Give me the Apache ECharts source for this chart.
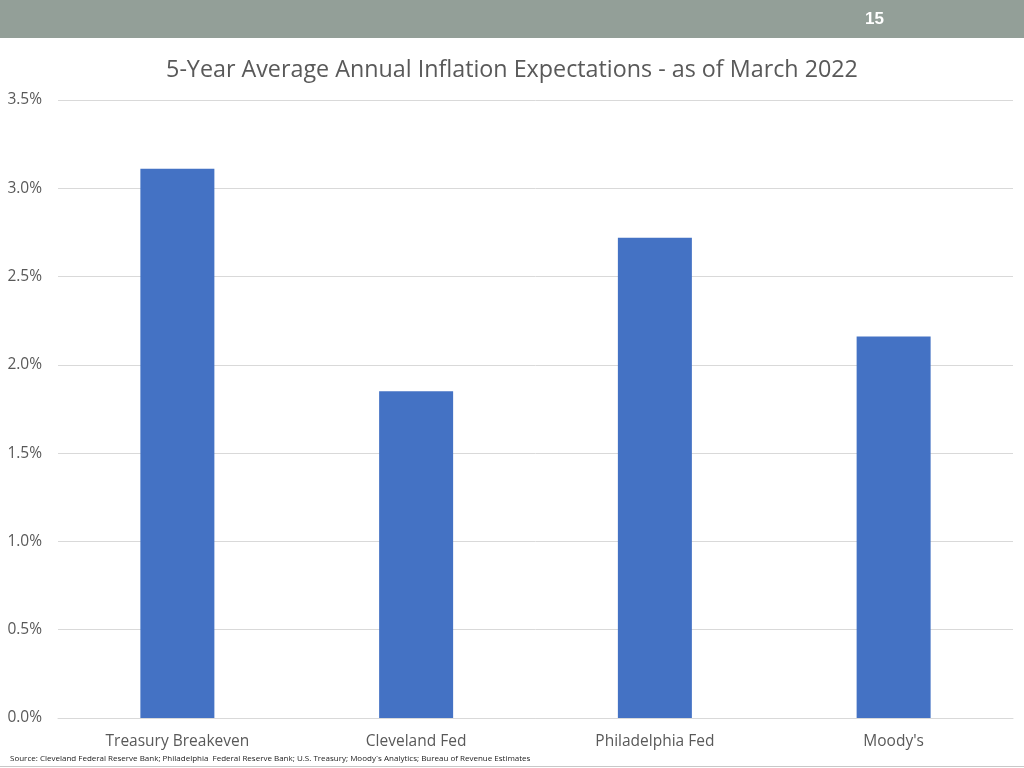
<!DOCTYPE html>
<html><head><meta charset="utf-8">
<script src="https://cdn.jsdelivr.net/npm/echarts@6/dist/echarts.min.js"></script>
<style>html,body{margin:0;padding:0;background:#fff}#c{width:1024px;height:768px}</style>
</head><body><div id="c"></div>
<script>
const categories = ['Treasury Breakeven', 'Cleveland Fed', 'Philadelphia Fed', "Moody's"];
const values = [3.11, 1.85, 2.72, 2.16];
const yTicks = [0, 0.5, 1.0, 1.5, 2.0, 2.5, 3.0, 3.5];
const titleText = '5-Year Average Annual Inflation Expectations - as of March 2022';
const sourceText = "Source: Cleveland Federal Reserve Bank; Philadelphia  Federal Reserve Bank; U.S. Treasury; Moody`s Analytics; Bureau of Revenue Estimates";
const pageNum = '15';

const chart = echarts.init(document.getElementById('c'));
chart.setOption({
  animation: false,
  backgroundColor: '#fff',
  title: {
    text: titleText, left: 'center', top: 54,
    textStyle: {fontFamily: 'Open Sans, sans-serif', fontWeight: 'normal', fontSize: 23.3, color: '#595959'}
  },
  graphic: [
    {type: 'rect', shape: {x: 0, y: 0, width: 1024, height: 38}, style: {fill: '#939F98'}},
    {type: 'text', left: 865, top: 11, style: {text: pageNum, fill: '#fff', font: 'bold 17px Liberation Sans, Arial, sans-serif'}},
    {type: 'text', left: 10, top: 755, style: {text: sourceText, fill: '#222', font: '8px Open Sans, sans-serif'}},
    {type: 'line', shape: {x1: 0, y1: 766.5, x2: 1024, y2: 766.5}, style: {stroke: '#c8c8c8', lineWidth: 1}}
  ],
  grid: {left: 58, right: 11, top: 100, bottom: 50},
  xAxis: {
    type: 'category', data: categories,
    axisLine: {lineStyle: {color: '#d9d9d9'}}, axisTick: {show: false},
    axisLabel: {color: '#595959', fontSize: 15.5, margin: 16, fontFamily: 'Open Sans, sans-serif'}
  },
  yAxis: {
    type: 'value', min: yTicks[0], max: yTicks[yTicks.length - 1], interval: 0.5,
    axisLine: {show: false}, axisTick: {show: false},
    splitLine: {lineStyle: {color: '#d9d9d9'}},
    axisLabel: {color: '#595959', fontSize: 15.5, margin: 16, fontFamily: 'Open Sans, sans-serif',
      formatter: v => v.toFixed(1) + '%'}
  },
  series: [{
    type: 'bar', data: values, barWidth: 74,
    itemStyle: {color: '#4472C4'}
  }]
});
</script></body></html>
